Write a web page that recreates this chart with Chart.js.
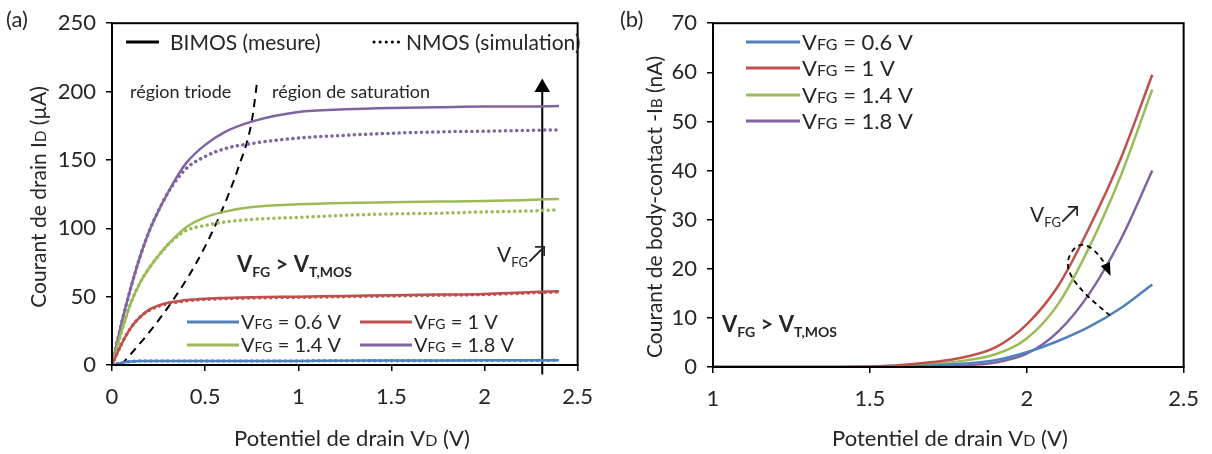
<!DOCTYPE html>
<html>
<head>
<meta charset="utf-8">
<script src="https://cdn.jsdelivr.net/npm/chart.js@4.4.1/dist/chart.umd.min.js"></script>
<style>
  body { margin: 0; background: #fff; }
  .wrap { display: flex; width: 1212px; height: 454px; }
  .box { position: relative; width: 606px; height: 454px; }
</style>
</head>
<body>
<div class="wrap">
  <div class="box"><canvas id="chartA"></canvas></div>
  <div class="box"><canvas id="chartB"></canvas></div>
</div>
<script>
// ---- données (a) : ID = f(VD) ----
const vdA = [0, 0.05, 0.1, 0.15, 0.2, 0.25, 0.3, 0.35, 0.4, 0.5, 0.6, 0.75, 1, 1.25, 1.5, 1.75, 2, 2.2, 2.4];
const bimos06 = [0, 1.5, 2.5, 3, 3, 3, 3, 3, 3, 3, 3, 3, 3, 3.2, 3.2, 3.3, 3.4, 3.4, 3.5];
const bimos10 = [0, 15, 27, 35, 40.5, 43.5, 45.5, 46.5, 47.5, 48.5, 49, 49.5, 50, 50.5, 51, 51.5, 52, 53, 54];
const bimos14 = [0, 24, 45, 60, 71, 80, 88, 95, 101, 108, 112, 115.5, 117.5, 118.5, 119, 119.5, 120, 120.5, 121.5];
const bimos18 = [0, 30, 56, 79, 98, 113, 126, 138, 148, 161, 170, 178, 185, 187, 188, 188.5, 189, 189, 189.5];
const nmos06 = [0, 1.5, 2.5, 3, 3, 3, 3, 3, 3, 3, 3, 3, 3, 3.1, 3.1, 3.2, 3.3, 3.3, 3.4];
const nmos10 = [0, 15, 27, 35, 40, 43, 45, 46, 47, 48, 48.5, 49, 49.5, 50, 50.5, 51, 51.5, 52.5, 53.5];
const nmos14 = [0, 24, 45, 60, 71, 80, 88, 94, 98.5, 102, 104.5, 106.5, 108, 109.5, 110.5, 111, 112, 112.5, 113.5];
const nmos18 = [0, 30, 56, 79, 98, 113, 126, 136, 144, 152.5, 158, 162, 166, 168, 169.5, 170.5, 171, 171.5, 172];
// frontière triode / saturation
const satVd = [0.05, 0.2, 0.31, 0.45, 0.574, 0.68, 0.75, 0.78];
const satId = [0, 24, 44, 74, 108, 145, 178, 208];
// flèche VFG
const arrowVd = [2.31, 2.31];
const arrowId = [-7, 203];

// ---- données (b) : -IB = f(VD) ----
const vdB = [1, 1.2, 1.4, 1.5, 1.6, 1.7, 1.8, 1.9, 2.0, 2.1, 2.2, 2.3, 2.4];
const ib06 = [0, 0, 0, 0, 0.1, 0.3, 0.7, 1.4, 3.0, 5.3, 8.2, 12, 16.8];
const ib10 = [0, 0, 0, 0.1, 0.4, 1.0, 2.0, 4.0, 8.7, 16.5, 28.5, 42.5, 59.5];
const ib14 = [0, 0, 0, 0, 0.2, 0.6, 1.3, 2.6, 5.8, 12.8, 24.5, 39, 56.5];
const ib18 = [0, 0, 0, 0, 0, 0.1, 0.3, 0.9, 2.7, 7.2, 15, 26, 40];

const vfgLabels = ['0.6', '1', '1.4', '1.8'];
const colors = ['#4F81BD', '#C0504D', '#9BBB59', '#8064A2'];

const FONT = 'Lato, "Open Sans", sans-serif';
const TXT = '#262626';

function pts(xs, ys) {
  return xs.map((x, i) => ({ x: x, y: ys[i] }));
}

// texte avec indices (taille différente)
function rich(ctx, x, y, parts, align) {
  let w = 0;
  parts.forEach(p => {
    ctx.font = (p.b ? 'bold ' : '') + p.s + 'px ' + FONT;
    p.w = ctx.measureText(p.t).width;
    w += p.w;
  });
  let cx = align === 'center' ? x - w / 2 : x;
  ctx.textAlign = 'left';
  ctx.textBaseline = 'alphabetic';
  parts.forEach(p => {
    ctx.font = (p.b ? 'bold ' : '') + p.s + 'px ' + FONT;
    ctx.fillText(p.t, cx, y + (p.dy || 0));
    cx += p.w;
  });
}

function vfgText(val, s) {
  return [{ t: 'V', s: s }, { t: 'FG', s: Math.round(s * 0.72) }, { t: ' = ' + val + ' V', s: s }];
}

function legendLine(ctx, x1, x2, y, color, dash) {
  ctx.save();
  ctx.strokeStyle = color;
  ctx.lineWidth = 3;
  ctx.lineCap = dash ? 'round' : 'butt';
  ctx.setLineDash(dash || []);
  ctx.beginPath();
  ctx.moveTo(x1, y);
  ctx.lineTo(x2, y);
  ctx.stroke();
  ctx.restore();
}

function commonScales(xMin, xMax, xStep, yMin, yMax, yStep, dims) {
  const tickFont = { family: FONT, size: 22 };
  const fmt = v => Number(v.toFixed(2)).toString();
  return {
    x: {
      type: 'linear', min: xMin, max: xMax,
      ticks: { stepSize: xStep, font: tickFont, color: TXT, padding: 13, maxRotation: 0, callback: fmt },
      grid: { drawOnChartArea: false, tickLength: 6, color: '#000', lineWidth: 1.5 },
      border: { color: '#000', width: 1.5 },
      afterFit: s => { s.height = 454 - dims.bottom; }
    },
    y: {
      type: 'linear', min: yMin, max: yMax,
      ticks: { stepSize: yStep, font: tickFont, color: TXT, padding: 10, callback: fmt },
      grid: { drawOnChartArea: false, tickLength: 6, color: '#000', lineWidth: 1.5 },
      border: { color: '#000', width: 1.5 },
      afterFit: s => { s.width = dims.left; }
    }
  };
}

const frame = {
  id: 'frame',
  afterDraw(chart) {
    const a = chart.chartArea;
    const ctx = chart.ctx;
    ctx.save();
    ctx.strokeStyle = '#000';
    ctx.lineWidth = 2;
    ctx.strokeRect(a.left, a.top, a.right - a.left, a.bottom - a.top);
    ctx.restore();
  }
};

// ---------- graphique (a) ----------
const dsA = [];
const bimos = [bimos06, bimos10, bimos14, bimos18];
const nmos = [nmos06, nmos10, nmos14, nmos18];
for (let i = 0; i < 4; i++) {
  dsA.push({
    label: 'NMOS ' + vfgLabels[i], data: pts(vdA, nmos[i]),
    borderColor: colors[i], borderWidth: 3.5, borderDash: [0.1, 5.5], borderCapStyle: 'round',
    pointRadius: 0, cubicInterpolationMode: 'monotone'
  });
}
for (let i = 0; i < 4; i++) {
  dsA.push({
    label: 'BIMOS ' + vfgLabels[i], data: pts(vdA, bimos[i]),
    borderColor: colors[i], borderWidth: 2.5, pointRadius: 0, cubicInterpolationMode: 'monotone'
  });
}
dsA.push({
  label: 'saturation', data: pts(satVd, satId),
  borderColor: '#000', borderWidth: 2, borderDash: [8, 6], pointRadius: 0, cubicInterpolationMode: 'monotone'
});
dsA.push({
  label: 'fleche', data: pts(arrowVd, arrowId), clip: false,
  borderColor: '#000', borderWidth: 2, pointStyle: 'triangle',
  pointRadius: [0, 7], backgroundColor: '#000', pointBorderColor: '#000'
});

const textA = {
  id: 'textA',
  afterDraw(chart) {
    const ctx = chart.ctx;
    ctx.save();
    ctx.fillStyle = TXT;
    rich(ctx, 6, 27, [{ t: '(a)', s: 22 }], 'left');
    // légende du haut
    legendLine(ctx, 126, 159, 42, '#000');
    rich(ctx, 170, 50, [{ t: 'BIMOS (mesure)', s: 21 }], 'left');
    legendLine(ctx, 374, 402, 42, '#000', [0.1, 6]);
    rich(ctx, 406, 50, [{ t: 'NMOS (simulation)', s: 21 }], 'left');
    // régions
    rich(ctx, 130, 98, [{ t: 'région triode', s: 18 }], 'left');
    rich(ctx, 272, 98, [{ t: 'région de saturation', s: 18 }], 'left');
    // VFG > VT,MOS
    rich(ctx, 237, 272, [
      { t: 'V', s: 22, b: true }, { t: 'FG', s: 14, b: true, dy: 5 },
      { t: ' > V', s: 22, b: true }, { t: 'T,MOS', s: 14, b: true, dy: 5 }
    ], 'left');
    rich(ctx, 497, 262, [{ t: 'V', s: 21 }, { t: 'FG', s: 13, dy: 5 }, { t: '↗', s: 25 }], 'left');
    // légende interne
    const rows = [[187, 322], [360, 322], [187, 345], [360, 345]];
    for (let i = 0; i < 4; i++) {
      const r = rows[i];
      legendLine(ctx, r[0], r[0] + 52, r[1], colors[i]);
      rich(ctx, r[0] + 54, r[1] + 7, vfgText(vfgLabels[i], 20), 'left');
    }
    // titres des axes
    rich(ctx, 352, 446, [{ t: 'Potentiel de drain V', s: 22 }, { t: 'D', s: 16 }, { t: ' (V)', s: 22 }], 'center');
    ctx.translate(46, 197);
    ctx.rotate(-Math.PI / 2);
    rich(ctx, 0, 0, [{ t: 'Courant de drain I', s: 21 }, { t: 'D', s: 15 }, { t: ' (µA)', s: 21 }], 'center');
    ctx.restore();
  }
};

new Chart(document.getElementById('chartA'), {
  type: 'line',
  data: { datasets: dsA },
  options: {
    responsive: true, maintainAspectRatio: false, animation: false,
    layout: { padding: { left: 0, top: 22, right: 24, bottom: 0 } },
    plugins: { legend: { display: false }, tooltip: { enabled: false } },
    scales: commonScales(0, 2.5, 0.5, 0, 250, 50, { left: 112, bottom: 365 })
  },
  plugins: [frame, textA]
});

// ---------- graphique (b) ----------
const ibAll = [ib06, ib10, ib14, ib18];
const dsB = ibAll.map((ys, i) => ({
  label: 'VFG = ' + vfgLabels[i] + ' V', data: pts(vdB, ys),
  borderColor: colors[i], borderWidth: 2.5, pointRadius: 0, cubicInterpolationMode: 'monotone'
}));

const textB = {
  id: 'textB',
  afterDraw(chart) {
    const ctx = chart.ctx;
    const sx = chart.scales.x, sy = chart.scales.y;
    ctx.save();
    ctx.fillStyle = TXT;
    rich(ctx, 14, 27, [{ t: '(b)', s: 22 }], 'left');
    const rowsY = [42, 68, 95, 121];
    for (let i = 0; i < 4; i++) {
      legendLine(ctx, 140, 194, rowsY[i], colors[i]);
      rich(ctx, 196, rowsY[i] + 8, vfgText(vfgLabels[i], 22), 'left');
    }
    rich(ctx, 424, 222, [{ t: 'V', s: 21 }, { t: 'FG', s: 13, dy: 5 }, { t: '↗', s: 25 }], 'left');
    rich(ctx, 116, 332, [
      { t: 'V', s: 22, b: true }, { t: 'FG', s: 14, b: true, dy: 5 },
      { t: ' > V', s: 22, b: true }, { t: 'T,MOS', s: 14, b: true, dy: 5 }
    ], 'left');
    // boucle en pointillés
    const P = (x, y) => [sx.getPixelForValue(x), sy.getPixelForValue(y)];
    const p0 = P(2.265, 10.5), c1 = P(2.2, 14), c2 = P(2.1, 19), p1 = P(2.14, 23);
    const c3 = P(2.17, 27), c4 = P(2.23, 24), p2 = P(2.262, 19.3);
    ctx.strokeStyle = '#000';
    ctx.lineWidth = 1.8;
    ctx.setLineDash([5, 4]);
    ctx.beginPath();
    ctx.moveTo(p0[0], p0[1]);
    ctx.bezierCurveTo(c1[0], c1[1], c2[0], c2[1], p1[0], p1[1]);
    ctx.bezierCurveTo(c3[0], c3[1], c4[0], c4[1], p2[0], p2[1]);
    ctx.stroke();
    ctx.setLineDash([]);
    const ang = Math.atan2(p2[1] - c4[1], p2[0] - c4[0]);
    ctx.fillStyle = '#000';
    ctx.beginPath();
    ctx.moveTo(p2[0] + 4 * Math.cos(ang), p2[1] + 4 * Math.sin(ang));
    ctx.lineTo(p2[0] - 9 * Math.cos(ang) + 5 * Math.sin(ang), p2[1] - 9 * Math.sin(ang) - 5 * Math.cos(ang));
    ctx.lineTo(p2[0] - 9 * Math.cos(ang) - 5 * Math.sin(ang), p2[1] - 9 * Math.sin(ang) + 5 * Math.cos(ang));
    ctx.closePath();
    ctx.fill();
    // titres des axes
    ctx.fillStyle = TXT;
    rich(ctx, 344, 446, [{ t: 'Potentiel de drain V', s: 22 }, { t: 'D', s: 16 }, { t: ' (V)', s: 22 }], 'center');
    ctx.translate(56, 207);
    ctx.rotate(-Math.PI / 2);
    rich(ctx, 0, 0, [{ t: 'Courant de body-contact -I', s: 21 }, { t: 'B', s: 15 }, { t: ' (nA)', s: 21 }], 'center');
    ctx.restore();
  }
};

new Chart(document.getElementById('chartB'), {
  type: 'line',
  data: { datasets: dsB },
  options: {
    responsive: true, maintainAspectRatio: false, animation: false,
    layout: { padding: { left: 0, top: 23, right: 24, bottom: 0 } },
    plugins: { legend: { display: false }, tooltip: { enabled: false } },
    scales: commonScales(1, 2.5, 0.5, 0, 70, 10, { left: 107, bottom: 367 })
  },
  plugins: [frame, textB]
});
</script>
</body>
</html>
